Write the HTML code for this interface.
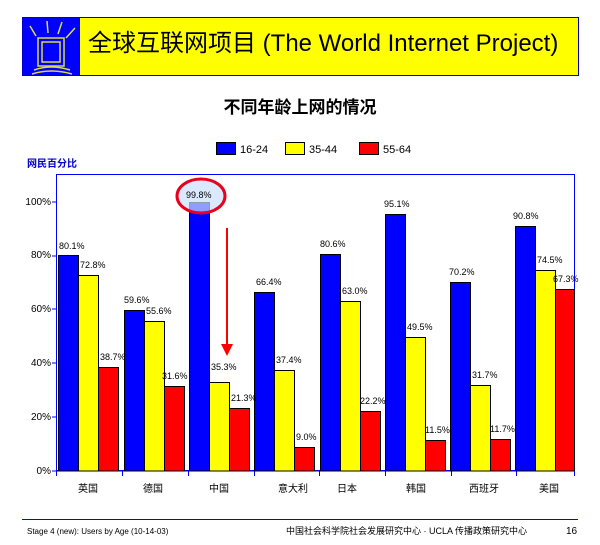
<!DOCTYPE html>
<html><head><meta charset="utf-8"><style>
body{margin:0;background:#fff;width:600px;height:540px;overflow:hidden}
svg text{font-family:"Liberation Sans","Noto Sans CJK SC",sans-serif}
</style></head><body>
<svg width="600" height="540" xmlns="http://www.w3.org/2000/svg">
<rect x="22.5" y="17.5" width="556" height="58" fill="#ffff00" stroke="#0000cc"/>
<rect x="23" y="18" width="57" height="57" fill="#0000ff"/>
<g stroke="#dddd44" stroke-width="1.5" fill="none">
<rect x="38" y="38" width="26" height="28"/><rect x="42" y="42" width="18" height="20"/>
<line x1="30" y1="26" x2="36" y2="36"/><line x1="47" y1="21" x2="48" y2="33"/><line x1="62" y1="22" x2="58" y2="34"/><line x1="75" y1="28" x2="66" y2="38"/>
<path d="M34 70 Q51 64 70 70"/><path d="M32 74 Q51 68 72 74"/>
</g>
<text x="88" y="51" font-size="24" fill="#000">全球互联网项目 (The World Internet Project)</text>
<text x="300" y="113" font-size="17" font-weight="bold" text-anchor="middle" font-family="Liberation Serif,'Noto Serif CJK SC',serif">不同年龄上网的情况</text>
<rect x="216.5" y="142.5" width="19" height="12" fill="#00f" stroke="#000"/><text x="240" y="153" font-size="11">16-24</text>
<rect x="285.5" y="142.5" width="19" height="12" fill="#ff0" stroke="#000"/><text x="309" y="153" font-size="11">35-44</text>
<rect x="359.5" y="142.5" width="19" height="12" fill="#f00" stroke="#000"/><text x="383" y="153" font-size="11">55-64</text>
<text x="27" y="167" font-size="10" font-weight="bold" fill="#00c">网民百分比</text>
<rect x="56.5" y="174.5" width="518" height="296" fill="none" stroke="#00f"/>
<g font-size="10" text-anchor="end">
<text x="51" y="474">0%</text><text x="51" y="420">20%</text><text x="51" y="366">40%</text><text x="51" y="312">60%</text><text x="51" y="258">80%</text><text x="51" y="205">100%</text>
</g>
<g stroke="#00f"><line x1="52" y1="471" x2="57" y2="471"/><line x1="52" y1="417" x2="57" y2="417"/><line x1="52" y1="363" x2="57" y2="363"/><line x1="52" y1="309" x2="57" y2="309"/><line x1="52" y1="256" x2="57" y2="256"/><line x1="52" y1="202" x2="57" y2="202"/>
<line x1="56" y1="471" x2="575" y2="471"/>
<line x1="56.5" y1="471" x2="56.5" y2="476"/><line x1="122.5" y1="471" x2="122.5" y2="476"/><line x1="188.5" y1="471" x2="188.5" y2="476"/><line x1="254.5" y1="471" x2="254.5" y2="476"/><line x1="319.5" y1="471" x2="319.5" y2="476"/><line x1="385.5" y1="471" x2="385.5" y2="476"/><line x1="451.5" y1="471" x2="451.5" y2="476"/><line x1="516.5" y1="471" x2="516.5" y2="476"/><line x1="574.5" y1="471" x2="574.5" y2="476"/></g>
<g stroke="#000" stroke-width="1">
<rect x="58.5" y="255.5" width="20" height="215.5" fill="#00f"/><rect x="78.5" y="275.5" width="20" height="195.5" fill="#ff0"/><rect x="98.5" y="367.5" width="20" height="103.5" fill="#f00"/>
<rect x="124.5" y="310.5" width="20" height="160.5" fill="#00f"/><rect x="144.5" y="321.5" width="20" height="149.5" fill="#ff0"/><rect x="164.5" y="386.5" width="20" height="84.5" fill="#f00"/>
<rect x="189.5" y="202.5" width="20" height="268.5" fill="#00f"/><rect x="209.5" y="382.5" width="20" height="88.5" fill="#ff0"/><rect x="229.5" y="408.5" width="20" height="62.5" fill="#f00"/>
<rect x="254.5" y="292.5" width="20" height="178.5" fill="#00f"/><rect x="274.5" y="370.5" width="20" height="100.5" fill="#ff0"/><rect x="294.5" y="447.5" width="20" height="23.5" fill="#f00"/>
<rect x="320.5" y="254.5" width="20" height="216.5" fill="#00f"/><rect x="340.5" y="301.5" width="20" height="169.5" fill="#ff0"/><rect x="360.5" y="411.5" width="20" height="59.5" fill="#f00"/>
<rect x="385.5" y="214.5" width="20" height="256.5" fill="#00f"/><rect x="405.5" y="337.5" width="20" height="133.5" fill="#ff0"/><rect x="425.5" y="440.5" width="20" height="30.5" fill="#f00"/>
<rect x="450.5" y="282.5" width="20" height="188.5" fill="#00f"/><rect x="470.5" y="385.5" width="20" height="85.5" fill="#ff0"/><rect x="490.5" y="439.5" width="20" height="31.5" fill="#f00"/>
<rect x="515.5" y="226.5" width="20" height="244.5" fill="#00f"/><rect x="535.5" y="270.5" width="20" height="200.5" fill="#ff0"/><rect x="555.5" y="289.5" width="19" height="181.5" fill="#f00"/>
</g>
<g font-size="9">
<text x="59" y="249">80.1%</text><text x="80" y="268">72.8%</text><text x="100" y="360">38.7%</text>
<text x="124" y="303">59.6%</text><text x="146" y="314">55.6%</text><text x="162" y="379">31.6%</text>
<text x="211" y="370">35.3%</text><text x="231" y="401">21.3%</text>
<text x="256" y="285">66.4%</text><text x="276" y="363">37.4%</text><text x="296" y="440">9.0%</text>
<text x="320" y="247">80.6%</text><text x="342" y="294">63.0%</text><text x="360" y="404">22.2%</text>
<text x="384" y="207">95.1%</text><text x="407" y="330">49.5%</text><text x="425" y="433">11.5%</text>
<text x="449" y="275">70.2%</text><text x="472" y="378">31.7%</text><text x="490" y="432">11.7%</text>
<text x="513" y="219">90.8%</text><text x="537" y="263">74.5%</text><text x="553" y="282">67.3%</text>
</g>
<ellipse cx="201" cy="196" rx="24" ry="17" fill="#cce0ff" fill-opacity="0.7" stroke="#e8001c" stroke-width="3"/>
<text x="186" y="198" font-size="9">99.8%</text>
<line x1="227" y1="228" x2="227" y2="345" stroke="#f00" stroke-width="2"/>
<polygon points="221,344 233,344 227,356" fill="#f00"/>
<g font-size="10" text-anchor="middle">
<text x="88" y="492">英国</text><text x="153" y="492">德国</text><text x="219" y="492">中国</text><text x="293" y="492">意大利</text><text x="347" y="492">日本</text><text x="416" y="492">韩国</text><text x="484" y="492">西班牙</text><text x="549" y="492">美国</text>
</g>
<line x1="22" y1="519.5" x2="578" y2="519.5" stroke="#00f"/>
<text x="27" y="534" font-size="8" font-family="Liberation Serif,serif">Stage 4 (new): Users by Age (10-14-03)</text>
<text x="286" y="534" font-size="9">中国社会科学院社会发展研究中心 · UCLA 传播政策研究中心</text>
<text x="566" y="534" font-size="10">16</text>
</svg>
</body></html>
